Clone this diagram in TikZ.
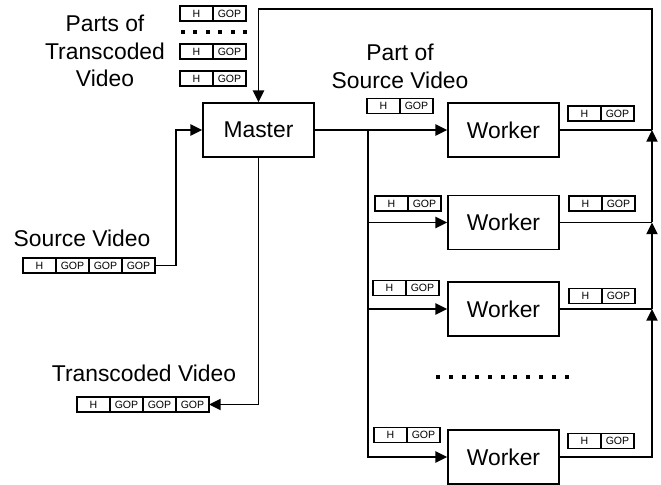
\documentclass[tikz,border=0pt]{standalone}
\usepackage{fontspec}
\setmainfont{Liberation Sans}
\usetikzlibrary{positioning,arrows.meta}

\tikzset{
    box/.style={draw, line width=1.5pt, minimum width=3.33cm, minimum height=1.62cm, inner sep=0pt, font=\fontsize{19.5}{23.5}\selectfont},
    cell/.style={draw, line width=1.2pt, minimum width=0.99cm, minimum height=0.45cm, inner sep=0pt, outer sep=0pt, font=\fontsize{9}{10}\selectfont},
    lbl/.style={align=center, inner sep=0pt, font=\fontsize{19.5}{23.5}\selectfont},
    link/.style={line width=1.5pt},
    flow/.style={link, -{Triangle[length=10pt,width=9.5pt]}}
}

% header cell and #3 GOP cells in a row, west end at #2
\newcommand{\packet}[3]{%
    \node[cell, anchor=west] (#1-h) at (#2) {H};
    \foreach \k [remember=\k as \prev (initially h)] in {1,...,#3}
        \node[cell, right=0pt of #1-\prev] (#1-\k) {GOP};
}

\begin{document}
\begin{tikzpicture}[x=0.03cm,y=-0.03cm]
    \useasboundingbox (0,0) rectangle (661,485);

    % Parts of transcoded video
    \node[lbl] (partslbl) at (105,51) {Parts of\\Transcoded\\Video};
    \packet{part1}{180,13.5}{1}
    \foreach \k in {0,...,5}
        \fill (183+12.4*\k-2,30) rectangle ++(4,4);
    \packet{part2}{180,51.5}{1}
    \packet{part3}{180,78.5}{1}

    % Master
    \node[box] (master) at (258.5,130) {Master};

    % Source video
    \node[lbl] (srclbl) at (82,238.5) {Source Video};
    \packet{src}{23,265.5}{3}
    \coordinate (srcturn) at (176,130);
    \draw[flow] (src-3.east) -| (srcturn) -- (master.west);

    % Transcoded video
    \node[lbl] (translbl) at (144,373.5) {Transcoded Video};
    \packet{trans}{77,404.5}{3}
    \draw[flow] (master.south) |- (trans-3.east);

    % Workers
    \node[lbl] (partlbl) at (400,66.5) {Part of\\Source Video};
    \foreach \i/\yy/\inx/\iny/\outx/\outy in {1/130/367/106/568/113.5, 2/222.5/375/203.5/569/203.5, 3/309/373/288/569/296, 4/457/374/435/568/441} {
        \node[box] (w\i) at (503.5,\yy) {Worker};
        \packet{in\i}{\inx,\iny}{1}
        \packet{out\i}{\outx,\outy}{1}
        \coordinate (r\i) at (652,\yy);
    }
    \foreach \k in {0,...,10}
        \fill (438+12.9*\k-2,375) rectangle ++(4,4);

    % Master -> workers
    \draw[flow] (master.east) -- (w1.west);
    \coordinate (lbus) at (368,130);
    \foreach \i in {2,3,4}
        \draw[flow] (lbus) |- (w\i.west);

    % Workers -> master
    \foreach \i in {1,2,3}
        \draw[link] (w\i.east) -- (r\i);
    \draw[flow] (w4.east) -| (r3);
    \draw[flow] (r3) -- (r2);
    \draw[flow] (r2) -- (r1);
    \coordinate (ttop) at (652,9);
    \draw[flow] (r1) -- (ttop) -| (master.north);
\end{tikzpicture}
\end{document}
